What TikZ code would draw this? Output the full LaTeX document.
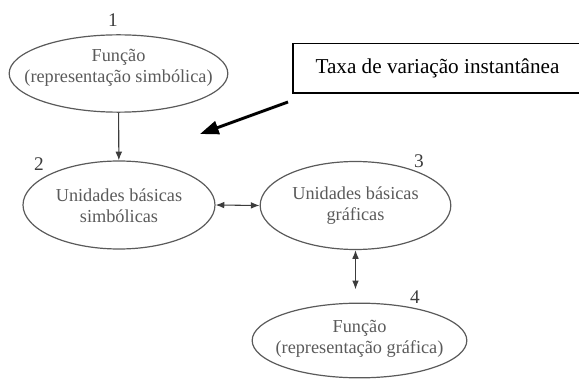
\documentclass[tikz,border=0pt]{standalone}
\usepackage{fontspec}
\setmainfont{Liberation Serif}
\usetikzlibrary{shapes.geometric,arrows.meta}

\definecolor{ellgray}{RGB}{90,90,90}
\definecolor{numgray}{RGB}{60,60,60}

\tikzset{
  ell/.style={draw=ellgray,ellipse,inner sep=0pt,line width=0.9pt},
  elltext/.style={text=ellgray,align=center,inner sep=0pt,font=\fontsize{13.7}{15.8}\selectfont},
  num/.style={text=numgray,inner sep=0.75pt,font=\fontsize{14.5}{16}\selectfont},
  conn/.style={draw=numgray,line width=0.8pt,-{Latex[length=6.5pt,width=5pt]}},
  dconn/.style={draw=numgray,line width=0.8pt,{Latex[length=6.5pt,width=5pt]}-{Latex[length=6.5pt,width=5pt]}}
}

\begin{document}
\begin{tikzpicture}[x=0.75pt,y=0.75pt,yscale=-1,xscale=1]
    \path[use as bounding box] (0,0) rectangle (579,381);
    
    % Ellipses
    \node [ell,minimum width=164pt,minimum height=58pt] (f1) at (118.5,73.5) {};
    \node [ell,minimum width=144pt,minimum height=66pt] (u2) at (119,205) {};
    \node [ell,minimum width=143pt,minimum height=66pt] (u3) at (355.5,205.5) {};
    \node [ell,minimum width=161pt,minimum height=56pt] (f4) at (359.5,340.5) {};
    
    % Text Node
    \node [elltext] (f1t) at (118.5,67.5) {Função\\(representação simbólica)};
    % Text Node
    \node [elltext] (u2t) at (119,206) {Unidades básicas\\simbólicas};
    % Text Node
    \node [elltext] (u3t) at (355.5,206) {Unidades básicas\\gráficas};
    % Text Node
    \node [elltext] (f4t) at (359.5,339) {Função\\(representação gráfica)};
    
    % Text Node
    \node [num] (n1) at (113,20) {1};
    % Text Node
    \node [num] (n2) at (39,164) {2};
    % Text Node
    \node [num] (n3) at (419,161) {3};
    % Text Node
    \node [num] (n4) at (415,297) {4};
    
    % Box
    \draw [line width=0.8pt] (293,43.5) rectangle (585,93);
    \node [inner sep=0pt,font=\fontsize{15.9}{18}\selectfont] (tax) at (437.5,68) {Taxa de variação instantânea};
    
    % Connectors
    \draw [conn] (f1) -- (u2);
    \draw [dconn] (u2.east) -- (u3.west);
    \draw [dconn,shorten >=10pt] (u3.south) -- (u3.south |- f4.north);
    
    % Thick arrow
    \coordinate (tail) at (288,102);
    \coordinate (tip) at (200,134);
    \draw [line width=2.2pt,-{Triangle[length=14pt,width=10pt]}] (tail) -- (tip);
    
\end{tikzpicture}
\end{document}
